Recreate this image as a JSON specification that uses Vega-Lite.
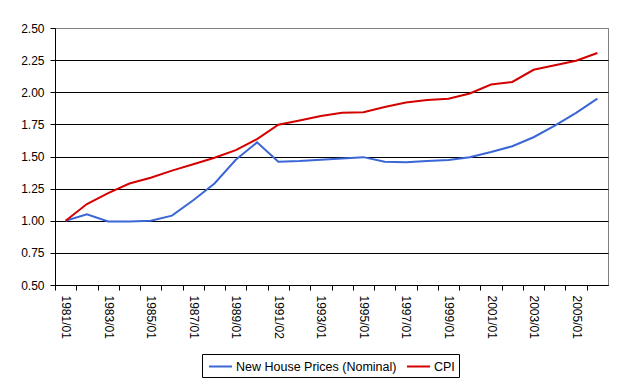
{
  "$schema": "https://vega.github.io/schema/vega-lite/v6.json",
  "width": 553,
  "height": 257,
  "autosize": {"type": "none"},
  "padding": {"left": 55, "top": 28, "right": 19, "bottom": 106},
  "background": "white",
  "config": {
    "view": {"stroke": "#808080", "strokeWidth": 1},
    "font": "Liberation Sans"
  },
  "data": {
    "values": [
      {"period": "1981/01", "series": "New House Prices (Nominal)", "value": 1.00},
      {"period": "1982/01", "series": "New House Prices (Nominal)", "value": 1.05},
      {"period": "1983/01", "series": "New House Prices (Nominal)", "value": 0.995},
      {"period": "1984/01", "series": "New House Prices (Nominal)", "value": 0.995},
      {"period": "1985/01", "series": "New House Prices (Nominal)", "value": 1.00},
      {"period": "1986/01", "series": "New House Prices (Nominal)", "value": 1.04},
      {"period": "1987/01", "series": "New House Prices (Nominal)", "value": 1.16},
      {"period": "1988/01", "series": "New House Prices (Nominal)", "value": 1.29},
      {"period": "1989/01", "series": "New House Prices (Nominal)", "value": 1.475},
      {"period": "1990/01", "series": "New House Prices (Nominal)", "value": 1.61},
      {"period": "1991/02", "series": "New House Prices (Nominal)", "value": 1.46},
      {"period": "1992/01", "series": "New House Prices (Nominal)", "value": 1.465},
      {"period": "1993/01", "series": "New House Prices (Nominal)", "value": 1.475},
      {"period": "1994/01", "series": "New House Prices (Nominal)", "value": 1.485},
      {"period": "1995/01", "series": "New House Prices (Nominal)", "value": 1.495},
      {"period": "1996/01", "series": "New House Prices (Nominal)", "value": 1.46},
      {"period": "1997/01", "series": "New House Prices (Nominal)", "value": 1.455},
      {"period": "1998/01", "series": "New House Prices (Nominal)", "value": 1.465},
      {"period": "1999/01", "series": "New House Prices (Nominal)", "value": 1.473},
      {"period": "2000/01", "series": "New House Prices (Nominal)", "value": 1.495},
      {"period": "2001/01", "series": "New House Prices (Nominal)", "value": 1.535},
      {"period": "2002/01", "series": "New House Prices (Nominal)", "value": 1.58},
      {"period": "2003/01", "series": "New House Prices (Nominal)", "value": 1.65},
      {"period": "2004/01", "series": "New House Prices (Nominal)", "value": 1.74},
      {"period": "2005/01", "series": "New House Prices (Nominal)", "value": 1.84},
      {"period": "2006/01", "series": "New House Prices (Nominal)", "value": 1.95},
      {"period": "1981/01", "series": "CPI", "value": 1.00},
      {"period": "1982/01", "series": "CPI", "value": 1.13},
      {"period": "1983/01", "series": "CPI", "value": 1.215},
      {"period": "1984/01", "series": "CPI", "value": 1.29},
      {"period": "1985/01", "series": "CPI", "value": 1.335},
      {"period": "1986/01", "series": "CPI", "value": 1.39},
      {"period": "1987/01", "series": "CPI", "value": 1.44},
      {"period": "1988/01", "series": "CPI", "value": 1.49},
      {"period": "1989/01", "series": "CPI", "value": 1.55},
      {"period": "1990/01", "series": "CPI", "value": 1.635},
      {"period": "1991/02", "series": "CPI", "value": 1.747},
      {"period": "1992/01", "series": "CPI", "value": 1.78},
      {"period": "1993/01", "series": "CPI", "value": 1.815},
      {"period": "1994/01", "series": "CPI", "value": 1.84},
      {"period": "1995/01", "series": "CPI", "value": 1.845},
      {"period": "1996/01", "series": "CPI", "value": 1.885},
      {"period": "1997/01", "series": "CPI", "value": 1.92},
      {"period": "1998/01", "series": "CPI", "value": 1.94},
      {"period": "1999/01", "series": "CPI", "value": 1.95},
      {"period": "2000/01", "series": "CPI", "value": 1.99},
      {"period": "2001/01", "series": "CPI", "value": 2.06},
      {"period": "2002/01", "series": "CPI", "value": 2.08},
      {"period": "2003/01", "series": "CPI", "value": 2.175},
      {"period": "2004/01", "series": "CPI", "value": 2.21},
      {"period": "2005/01", "series": "CPI", "value": 2.245},
      {"period": "2006/01", "series": "CPI", "value": 2.305}
    ]
  },
  "mark": {"type": "line", "strokeWidth": 2},
  "encoding": {
    "x": {
      "field": "period",
      "type": "ordinal",
      "scale": {"type": "point", "padding": 0.5},
      "axis": {
        "title": null,
        "labelAngle": 90,
        "labelAlign": "left",
        "labelBaseline": "middle",
        "labelFontSize": 12,
        "labelColor": "black",
        "labelPadding": 5,
        "labelOverlap": false,
        "labelExpr": "toNumber(slice(datum.value, 0, 4)) % 2 == 1 ? datum.value : ''",
        "tickOffset": -10.63,
        "labelOffset": 10.63,
        "tickSize": 5,
        "tickColor": "black",
        "domainColor": "black",
        "grid": false
      }
    },
    "y": {
      "field": "value",
      "type": "quantitative",
      "scale": {"domain": [0.5, 2.5], "nice": false, "zero": false},
      "axis": {
        "title": null,
        "values": [0.5, 0.75, 1.0, 1.25, 1.5, 1.75, 2.0, 2.25, 2.5],
        "format": ".2f",
        "labelFontSize": 12,
        "labelColor": "black",
        "labelPadding": 6,
        "tickSize": 5,
        "tickColor": "black",
        "domainColor": "black",
        "grid": true,
        "gridColor": {"condition": {"test": "datum.value >= 2.5", "value": "#808080"}, "value": "black"},
        "gridOpacity": 1
      }
    },
    "color": {
      "field": "series",
      "type": "nominal",
      "scale": {"domain": ["New House Prices (Nominal)", "CPI"], "range": ["#3a66d6", "#d40000"]},
      "legend": {
        "title": null,
        "orient": "none",
        "direction": "horizontal",
        "legendX": 147,
        "legendY": 326,
        "strokeColor": "black",
        "padding": 4,
        "symbolType": "M-0.733,0H2.333",
        "symbolSize": 225,
        "symbolStrokeWidth": 2,
        "labelFontSize": 12.5,
        "labelLimit": 400,
        "labelColor": "black",
        "labelOffset": 13,
        "columnPadding": 6,
        "fillColor": "white"
      }
    }
  }
}
